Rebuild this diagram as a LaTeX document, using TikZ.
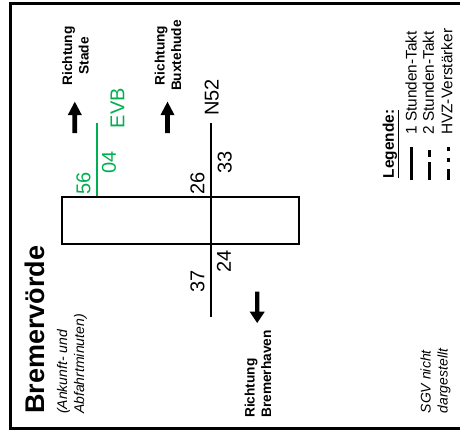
\documentclass[tikz,border=0pt]{standalone}
\usepackage{fontspec}
\setmainfont{Liberation Sans}
\definecolor{evbgreen}{RGB}{0,176,80}
\begin{document}
\begin{tikzpicture}[x=1pt,y=-1pt,
  lbl/.style={inner sep=0pt, rotate=90},
  num/.style={lbl, font=\fontsize{20}{24}\selectfont},
  dirlbl/.style={lbl, font=\fontsize{13.7}{16.5}\selectfont\bfseries},
  track/.style={line width=2pt},
  legtxt/.style={lbl, anchor=west, font=\fontsize{15.4}{18}\selectfont},
  legline/.style={line width=3pt},
  notelbl/.style={lbl, anchor=west, align=left, font=\fontsize{14}{17}\selectfont\itshape},
]
\useasboundingbox (0,0) rectangle (460,432);
\clip (0,0) rectangle (460,432);
\fill[white] (0,0) rectangle (460,432);
% outer frame (right edge cut off)
\draw[line width=3pt] (470,3.7) -- (10.7,3.7) -- (10.7,428.3) -- (470,428.3);

% station box
\node[draw, line width=1.5pt, inner sep=0pt, minimum width=237pt, minimum height=47pt] (hall) at (180.5,220.5) {};

% tracks
\coordinate (n52top) at (211.3,123);
\coordinate (n52bot) at (211.3,317);
\draw[track] (n52top) -- (n52bot);
\coordinate (evbtop) at (96.7,123);
\draw[track, evbgreen] (evbtop) -- (evbtop |- hall.north);

% minutes and line names
\node[num, evbgreen] (m56) at (83.5,183) {56};
\node[num, evbgreen] (m04) at (109,162.5) {04};
\node[num, evbgreen] (evb) at (117.5,108) {EVB};
\node[num] (m26) at (197.5,183) {26};
\node[num] (m33) at (224.7,162.5) {33};
\node[num] (n52) at (211.7,97.5) {N52};
\node[num] (m37) at (197.5,281) {37};
\node[num] (m24) at (224,261) {24};

% direction arrows
\fill (74.8,101.7) -- (81.8,115) -- (77.2,115) -- (77.2,133) -- (72.4,133) -- (72.4,115) -- (67.8,115) -- cycle;
\fill (167.5,101.7) -- (174.5,115) -- (169.9,115) -- (169.9,133) -- (165.1,133) -- (165.1,115) -- (160.5,115) -- cycle;
\fill (257.2,323) -- (264.7,311.7) -- (259.4,311.7) -- (259.4,291.7) -- (255,291.7) -- (255,311.7) -- (249.7,311.7) -- cycle;

% direction labels
\node[dirlbl, align=center] (stade) at (75.5,56) {Richtung\\Stade};
\node[dirlbl, align=center] (buxte) at (168,55.5) {Richtung\\Buxtehude};
\node[dirlbl, align=left, anchor=west] (bremerh) at (258,418) {Richtung\\Bremerhaven};

% title
\node[lbl, anchor=west, font=\fontsize{27}{30}\selectfont\bfseries] (title) at (35,414) {Bremervörde};
\node[notelbl] (sub) at (72,414) {(Ankunft- und\\Abfahrtminuten)};
\node[notelbl] (sgv) at (435.5,413.5) {SGV nicht\\dargestellt};

% legend
\node[lbl, anchor=west, font=\fontsize{15.4}{18}\selectfont\bfseries] (leg) at (391,178.5) {\underline{Legende:}};
\node[legtxt] (l1) at (411,135) {1 Stunden-Takt};
\node[legtxt] (l2) at (428.3,135) {2 Stunden-Takt};
\node[legtxt] (l3) at (446.8,135) {HVZ-Verstärker};
\coordinate (s1a) at (411,147); \coordinate (s1b) at (411,180);
\draw[legline] (s1a) -- (s1b);
\coordinate (s2a) at (429,150); \coordinate (s2b) at (429,157);
\coordinate (s2c) at (429,162); \coordinate (s2d) at (429,180);
\draw[legline] (s2a) -- (s2b) (s2c) -- (s2d);
\coordinate (s3a) at (448,147); \coordinate (s3b) at (448,151);
\coordinate (s3c) at (448,158); \coordinate (s3d) at (448,162);
\coordinate (s3e) at (448,169); \coordinate (s3f) at (448,180);
\draw[legline] (s3a) -- (s3b) (s3c) -- (s3d) (s3e) -- (s3f);
\end{tikzpicture}
\end{document}
